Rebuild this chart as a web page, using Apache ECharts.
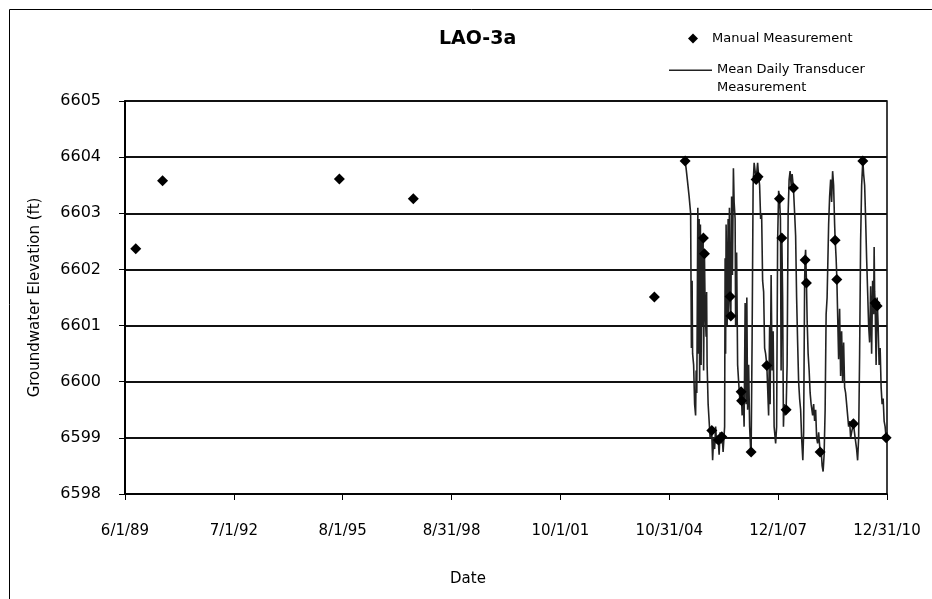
<!DOCTYPE html>
<html>
<head>
<meta charset="utf-8">
<script src="https://cdn.jsdelivr.net/npm/echarts@6/dist/echarts.min.js"></script>
<style>
  html, body { margin: 0; padding: 0; background: #fff; }
  #main { width: 932px; height: 599px; }
</style>
</head>
<body>
<div id="main"></div>
<script>
// x values are decimal years
var tickDates = ['1989-06-01', '1992-07-01', '1995-08-01', '1998-08-31', '2001-10-01', '2004-10-31', '2007-12-01', '2010-12-31'];
var tickLabels = ['6/1/89', '7/1/92', '8/1/95', '8/31/98', '10/1/01', '10/31/04', '12/1/07', '12/31/10'];

var manualYear = [1989.719, 1990.478, 1995.486, 1997.580, 2004.409,
  2005.279, 2005.797, 2005.826, 2006.035, 2006.222, 2006.318, 2006.553, 2006.574,
  2006.865, 2006.880, 2007.149, 2007.290, 2007.346, 2007.593, 2007.950, 2008.018,
  2008.140, 2008.347, 2008.678, 2008.715, 2009.103, 2009.528, 2009.576, 2010.046,
  2010.313, 2010.661, 2010.718, 2010.973];
var manualLevel = [6602.37, 6603.58, 6603.61, 6603.26, 6601.51,
  6603.93, 6602.56, 6602.28, 6599.13, 6598.96, 6599.02, 6601.52, 6601.17,
  6599.82, 6599.66, 6598.75, 6603.60, 6603.65, 6600.29, 6603.26, 6602.56,
  6599.50, 6603.45, 6602.17, 6601.76, 6598.75, 6602.52, 6601.82, 6599.25,
  6603.93, 6601.40, 6601.35, 6599.00];

var transducerYear = [
  2005.279, 2005.307, 2005.350, 2005.392, 2005.435, 2005.449, 2005.457, 2005.477, 2005.491, 2005.520,
  2005.548, 2005.576, 2005.591, 2005.610, 2005.639, 2005.656, 2005.676, 2005.690, 2005.712, 2005.732,
  2005.752, 2005.769, 2005.789, 2005.803, 2005.826, 2005.846, 2005.874, 2005.888, 2005.902, 2005.931,
  2005.959, 2005.987, 2006.030, 2006.058, 2006.086, 2006.115, 2006.143, 2006.171, 2006.214, 2006.242,
  2006.270, 2006.299, 2006.327, 2006.355, 2006.398, 2006.412, 2006.426, 2006.440, 2006.469, 2006.497,
  2006.511, 2006.534, 2006.554, 2006.574, 2006.596, 2006.619, 2006.647, 2006.667, 2006.695, 2006.710,
  2006.738, 2006.766, 2006.795, 2006.837, 2006.865, 2006.894, 2006.922, 2006.950, 2006.979, 2007.007,
  2007.027, 2007.049, 2007.078, 2007.106, 2007.134, 2007.149, 2007.177, 2007.205, 2007.234, 2007.262,
  2007.290, 2007.333, 2007.361, 2007.389, 2007.418, 2007.446, 2007.474, 2007.503, 2007.531, 2007.559,
  2007.593, 2007.616, 2007.644, 2007.673, 2007.687, 2007.715, 2007.743, 2007.772, 2007.800, 2007.843,
  2007.871, 2007.899, 2007.928, 2007.950, 2007.979, 2007.998, 2008.018, 2008.041, 2008.064, 2008.083,
  2008.112, 2008.140, 2008.168, 2008.197, 2008.225, 2008.253, 2008.282, 2008.310, 2008.347, 2008.381,
  2008.409, 2008.437, 2008.466, 2008.494, 2008.522, 2008.551, 2008.579, 2008.613, 2008.636, 2008.664,
  2008.678, 2008.692, 2008.715, 2008.735, 2008.763, 2008.792, 2008.820, 2008.848, 2008.891, 2008.919,
  2008.947, 2008.976, 2009.004, 2009.032, 2009.061, 2009.103, 2009.132, 2009.160, 2009.188, 2009.216,
  2009.245, 2009.273, 2009.301, 2009.344, 2009.372, 2009.401, 2009.429, 2009.457, 2009.485, 2009.514,
  2009.528, 2009.556, 2009.576, 2009.599, 2009.627, 2009.655, 2009.684, 2009.712, 2009.740, 2009.769,
  2009.797, 2009.825, 2009.854, 2009.882, 2009.910, 2009.939, 2009.967, 2009.995, 2010.046, 2010.095,
  2010.137, 2010.165, 2010.194, 2010.222, 2010.250, 2010.279, 2010.313, 2010.335, 2010.364, 2010.392,
  2010.420, 2010.449, 2010.477, 2010.505, 2010.534, 2010.562, 2010.590, 2010.619, 2010.633, 2010.647,
  2010.661, 2010.689, 2010.718, 2010.746, 2010.774, 2010.803, 2010.831, 2010.859, 2010.888, 2010.916,
  2010.944, 2010.973, 2010.995];
var transducerLevel = [
  6603.93, 6603.80, 6603.55, 6603.30, 6603.00, 6601.50, 6600.60, 6601.80, 6600.50, 6600.30,
  6599.60, 6599.40, 6600.20, 6599.80, 6603.10, 6600.50, 6602.90, 6600.00, 6602.80, 6600.30,
  6602.60, 6601.00, 6602.50, 6600.20, 6602.30, 6601.30, 6600.80, 6601.60, 6600.30, 6599.60,
  6599.30, 6599.00, 6599.15, 6598.60, 6599.00, 6598.80, 6599.20, 6598.90, 6599.00, 6598.70,
  6599.10, 6598.90, 6599.05, 6598.75, 6599.20, 6602.20, 6600.50, 6602.80, 6601.00, 6602.90,
  6601.20, 6603.10, 6601.50, 6601.20, 6603.30, 6601.90, 6603.80, 6603.20, 6602.90, 6601.00,
  6602.30, 6600.30, 6600.00, 6599.60, 6599.90, 6599.40, 6599.80, 6599.20, 6601.40, 6599.60,
  6601.50, 6599.50, 6600.30, 6599.20, 6598.80, 6598.75, 6600.80, 6603.50, 6603.90, 6603.75,
  6603.60, 6603.90, 6603.65, 6603.50, 6602.90, 6603.00, 6601.80, 6601.60, 6600.60, 6600.50,
  6600.30, 6599.90, 6599.40, 6601.00, 6599.60, 6601.90, 6600.20, 6600.90, 6599.20, 6598.90,
  6599.20, 6602.50, 6603.40, 6603.30, 6602.90, 6600.20, 6602.60, 6601.50, 6599.20, 6599.60,
  6599.40, 6599.50, 6600.30, 6603.00, 6603.60, 6603.75, 6603.50, 6603.70, 6603.45, 6603.00,
  6602.60, 6601.50, 6600.70, 6600.00, 6599.70, 6599.50, 6599.00, 6598.60, 6599.10, 6601.80,
  6602.20, 6602.35, 6601.80, 6601.10, 6600.50, 6600.20, 6599.80, 6599.60, 6599.40, 6599.60,
  6599.30, 6599.50, 6599.00, 6598.90, 6599.10, 6598.75, 6598.80, 6598.50, 6598.40, 6598.70,
  6599.50, 6601.20, 6601.50, 6602.80, 6603.30, 6603.60, 6603.20, 6603.75, 6603.50, 6602.80,
  6602.55, 6602.20, 6601.85, 6601.20, 6600.40, 6601.30, 6600.10, 6600.90, 6600.00, 6600.70,
  6599.90, 6599.80, 6599.60, 6599.40, 6599.20, 6599.30, 6599.00, 6599.10, 6599.25, 6599.00,
  6598.80, 6598.60, 6599.00, 6600.50, 6602.50, 6603.50, 6603.95, 6603.70, 6603.50, 6602.90,
  6602.20, 6601.60, 6601.00, 6600.70, 6601.70, 6600.50, 6601.80, 6601.20, 6602.40, 6601.60,
  6601.40, 6600.30, 6601.50, 6601.00, 6600.30, 6600.60, 6599.90, 6599.60, 6599.70, 6599.30,
  6599.20, 6599.00, 6599.10];

function toYear(s) {
  var d = new Date(s + 'T00:00:00Z');
  var y = d.getUTCFullYear();
  var a = Date.UTC(y, 0, 1), b = Date.UTC(y + 1, 0, 1);
  return y + (d.getTime() - a) / (b - a);
}

var tickYears = tickDates.map(toYear);
var manualData = manualYear.map(function (x, i) { return [x, manualLevel[i]]; });
var transducerData = transducerYear.map(function (x, i) { return [x, transducerLevel[i]]; });

var FONT = 'DejaVu Sans';
var chart = echarts.init(document.getElementById('main'), null, { renderer: 'canvas' });

var option = {
  backgroundColor: '#fff',
  animation: false,
  textStyle: { fontFamily: FONT, color: '#000' },
  title: {
    text: 'LAO-3a',
    left: 434,
    top: 25,
    textStyle: { fontFamily: FONT, fontSize: 19, fontWeight: 'bold', color: '#000' }
  },
  legend: [
    {
      data: ['Manual Measurement'],
      left: 683,
      top: 27,
      icon: 'diamond',
      itemWidth: 10,
      itemHeight: 10,
      itemStyle: { color: '#000', opacity: 1 },
      textStyle: { fontFamily: FONT, fontSize: 13, color: '#000', padding: [0, 0, 0, 9] }
    },
    {
      data: ['Mean Daily Transducer Measurement'],
      left: 664,
      top: 56,
      // line drawn at the top of the icon box so it sits level with the first text line
      icon: 'path://M0,0H43V1.5H0ZM0,19H0.1V19.1H0Z',
      itemWidth: 43,
      itemHeight: 19.1,
      formatter: function () { return 'Mean Daily Transducer\nMeasurement'; },
      textStyle: { fontFamily: FONT, fontSize: 13, color: '#000', lineHeight: 18 }
    }
  ],
  grid: {
    left: 125, right: 45, top: 101, bottom: 105,
    show: true, borderColor: '#000', borderWidth: 1.5, backgroundColor: 'transparent'
  },
  xAxis: {
    type: 'value',
    min: tickYears[0],
    max: tickYears[tickYears.length - 1],
    name: 'Date',
    nameLocation: 'middle',
    nameGap: 78,
    nameTextStyle: { fontFamily: FONT, fontSize: 15, color: '#000', padding: [0, 76, 0, 0] },
    axisLine: { show: true, lineStyle: { color: '#000', width: 1.5 } },
    axisTick: { show: true, inside: false, length: 6, customValues: tickYears, lineStyle: { color: '#000' } },
    axisLabel: {
      customValues: tickYears,
      margin: 30,
      fontFamily: FONT, fontSize: 15, color: '#000',
      formatter: function (v) {
        var best = 0;
        for (var i = 1; i < tickYears.length; i++) {
          if (Math.abs(tickYears[i] - v) < Math.abs(tickYears[best] - v)) best = i;
        }
        return tickLabels[best];
      }
    },
    splitLine: { show: false }
  },
  yAxis: {
    type: 'value',
    min: 6598,
    max: 6605,
    interval: 1,
    name: 'Groundwater Elevation (ft)',
    nameLocation: 'middle',
    nameGap: 82,
    nameTextStyle: { fontFamily: FONT, fontSize: 15, color: '#000' },
    axisLine: { show: true, lineStyle: { color: '#000', width: 2 } },
    axisTick: { show: true, inside: false, length: 6, lineStyle: { color: '#000' } },
    axisLabel: {
      margin: 24, fontFamily: FONT, fontSize: 16, color: '#000',
      formatter: function (v) { return String(v); }
    },
    splitLine: { show: true, lineStyle: { color: '#111', width: 2 } }
  },
  graphic: [
    { type: 'rect', left: 7, top: 7, shape: { width: 1000, height: 700 }, style: { fill: 'none', stroke: '#000', lineWidth: 1 }, silent: true }
  ],
  series: [
    {
      name: 'Mean Daily Transducer Measurement',
      type: 'line',
      data: transducerData,
      symbol: 'none',
      lineStyle: { color: '#222', width: 1.6 },
      itemStyle: { color: '#222' },
      z: 2
    },
    {
      name: 'Manual Measurement',
      type: 'scatter',
      data: manualData,
      symbol: 'diamond',
      symbolSize: 11,
      itemStyle: { color: '#000', opacity: 1 },
      z: 3
    }
  ]
};

chart.setOption(option);
</script>
</body>
</html>
